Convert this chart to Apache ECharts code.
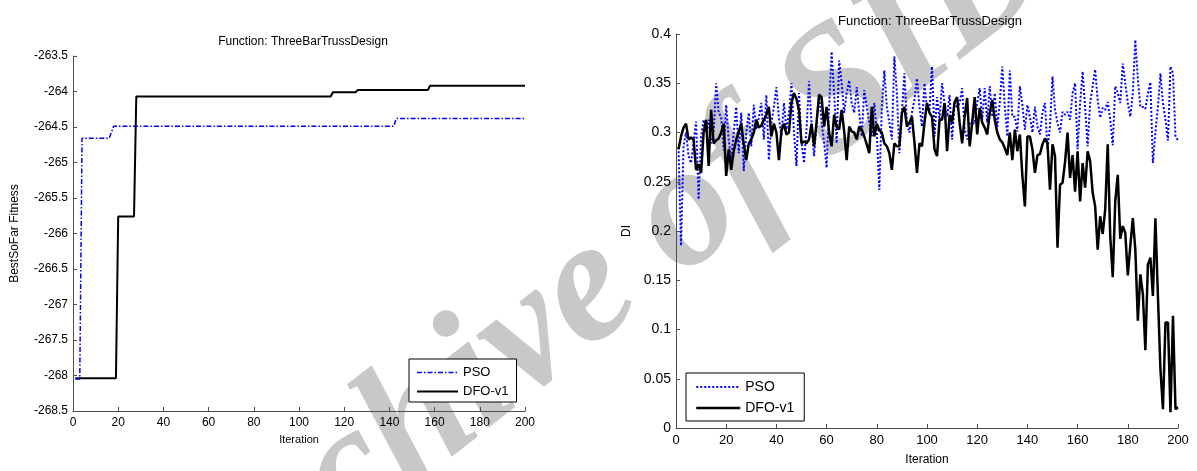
<!DOCTYPE html>
<html>
<head>
<meta charset="utf-8">
<script src="https://cdn.jsdelivr.net/npm/echarts@6/dist/echarts.min.js"></script>
<style>
  html, body { margin: 0; padding: 0; background: #fff; }
  #chart { width: 1197px; height: 471px; }
</style>
</head>
<body>
<div id="chart"></div>
<script>
// left panel: best-so-far fitness, step curves given as [iteration, value] breakpoints
const fitnessPSO = [
  [1, -268.05], [3, -268.05], [4, -264.66], [16, -264.66], [18, -264.49],
  [142, -264.49], [143, -264.38], [200, -264.38]
];
const fitnessDFO = [
  [1, -268.04], [19, -268.04], [20, -265.76], [27, -265.76], [28, -264.07],
  [114, -264.07], [115, -264.01], [125, -264.01], [126, -263.98], [157, -263.98],
  [158, -263.92], [200, -263.92]
];

// right panel: diversity index per iteration (1..200)
const diPSO = [
  0.285, 0.185, 0.286, 0.300, 0.276, 0.269, 0.290, 0.311, 0.232, 0.296,
  0.313, 0.300, 0.313, 0.289, 0.300, 0.350, 0.320, 0.316, 0.282, 0.328,
  0.293, 0.272, 0.300, 0.326, 0.279, 0.320, 0.261, 0.300, 0.320, 0.286,
  0.328, 0.303, 0.315, 0.330, 0.293, 0.338, 0.272, 0.310, 0.326, 0.346,
  0.315, 0.296, 0.330, 0.303, 0.320, 0.350, 0.300, 0.266, 0.340, 0.290,
  0.269, 0.303, 0.352, 0.310, 0.276, 0.309, 0.340, 0.310, 0.290, 0.264,
  0.326, 0.382, 0.340, 0.289, 0.373, 0.350, 0.320, 0.340, 0.353, 0.330,
  0.320, 0.346, 0.320, 0.296, 0.343, 0.326, 0.310, 0.296, 0.330, 0.300,
  0.242, 0.326, 0.363, 0.326, 0.310, 0.293, 0.377, 0.340, 0.279, 0.320,
  0.360, 0.309, 0.300, 0.320, 0.333, 0.355, 0.326, 0.306, 0.350, 0.323,
  0.323, 0.367, 0.296, 0.336, 0.313, 0.350, 0.330, 0.316, 0.338, 0.293,
  0.330, 0.326, 0.330, 0.345, 0.303, 0.293, 0.309, 0.310, 0.309, 0.330,
  0.345, 0.313, 0.345, 0.310, 0.347, 0.316, 0.340, 0.306, 0.330, 0.367,
  0.326, 0.296, 0.363, 0.316, 0.316, 0.301, 0.347, 0.328, 0.303, 0.328,
  0.316, 0.300, 0.326, 0.306, 0.298, 0.320, 0.330, 0.283, 0.306, 0.357,
  0.323, 0.310, 0.300, 0.321, 0.318, 0.321, 0.313, 0.340, 0.350, 0.283,
  0.330, 0.362, 0.325, 0.286, 0.330, 0.347, 0.364, 0.333, 0.315, 0.325,
  0.323, 0.331, 0.313, 0.287, 0.347, 0.340, 0.330, 0.370, 0.350, 0.330,
  0.316, 0.340, 0.394, 0.355, 0.326, 0.326, 0.324, 0.340, 0.351, 0.269,
  0.300, 0.326, 0.360, 0.330, 0.313, 0.292, 0.367, 0.360, 0.296, 0.292
];
const diDFO = [
  0.283, 0.296, 0.305, 0.309, 0.293, 0.295, 0.293, 0.262, 0.268, 0.259,
  0.300, 0.313, 0.266, 0.323, 0.289, 0.292, 0.294, 0.300, 0.309, 0.256,
  0.283, 0.262, 0.281, 0.293, 0.301, 0.309, 0.288, 0.272, 0.289, 0.293,
  0.300, 0.313, 0.305, 0.307, 0.313, 0.318, 0.326, 0.296, 0.309, 0.300,
  0.272, 0.302, 0.309, 0.298, 0.300, 0.330, 0.340, 0.334, 0.323, 0.289,
  0.291, 0.289, 0.293, 0.309, 0.286, 0.310, 0.338, 0.336, 0.306, 0.326,
  0.300, 0.286, 0.318, 0.306, 0.303, 0.323, 0.301, 0.272, 0.306, 0.301,
  0.300, 0.293, 0.306, 0.303, 0.296, 0.288, 0.279, 0.326, 0.296, 0.309,
  0.302, 0.300, 0.289, 0.286, 0.279, 0.262, 0.289, 0.286, 0.286, 0.320,
  0.326, 0.306, 0.310, 0.316, 0.290, 0.259, 0.289, 0.286, 0.310, 0.330,
  0.320, 0.316, 0.283, 0.276, 0.313, 0.313, 0.330, 0.281, 0.318, 0.310,
  0.331, 0.336, 0.310, 0.289, 0.316, 0.335, 0.286, 0.310, 0.336, 0.298,
  0.325, 0.310, 0.305, 0.298, 0.320, 0.333, 0.313, 0.300, 0.293, 0.290,
  0.284, 0.277, 0.300, 0.272, 0.303, 0.281, 0.298, 0.256, 0.225, 0.296,
  0.296, 0.283, 0.259, 0.277, 0.278, 0.288, 0.294, 0.289, 0.242, 0.288,
  0.276, 0.183, 0.247, 0.249, 0.270, 0.300, 0.254, 0.277, 0.240, 0.281,
  0.230, 0.269, 0.244, 0.281, 0.271, 0.239, 0.225, 0.181, 0.215, 0.197,
  0.222, 0.288, 0.195, 0.153, 0.230, 0.257, 0.192, 0.205, 0.198, 0.155,
  0.185, 0.213, 0.181, 0.109, 0.156, 0.136, 0.079, 0.166, 0.173, 0.134,
  0.213, 0.134, 0.060, 0.019, 0.107, 0.107, 0.016, 0.114, 0.019, 0.021
];

const xTicks = { min: 0, max: 200, interval: 20 };
const chartTitle = "Function: ThreeBarTrussDesign";

const font = "Liberation Sans";
const axisColor = "#4d4d4d";
const noMarker = { color: "rgba(0,0,0,0)", borderColor: "rgba(0,0,0,0)", borderWidth: 0 };

function toPairs(values) {
  return values.map((v, i) => [i + 1, v]);
}

function xAxisCfg(gridIndex, gap, fs) {
  return {
    type: "value", gridIndex, ...xTicks,
    name: "Iteration", nameLocation: "middle", nameGap: gap,
    nameTextStyle: { color: "#000", fontFamily: font, fontSize: fs - 1 },
    axisLine: { show: true, lineStyle: { color: axisColor, width: 1 } },
    axisTick: { show: true, inside: true, length: 4, lineStyle: { color: axisColor } },
    axisLabel: { color: "#000", fontFamily: font, fontSize: fs, margin: 6 },
    splitLine: { show: false }
  };
}

function yAxisCfg(gridIndex, min, max, interval, name, gap, fs) {
  return {
    type: "value", gridIndex, min, max, interval,
    name, nameLocation: "middle", nameGap: gap, nameRotate: 90,
    nameTextStyle: { color: "#000", fontFamily: font, fontSize: 12 },
    axisLine: { show: true, lineStyle: { color: axisColor, width: 1 } },
    axisTick: { show: true, inside: true, length: 4, lineStyle: { color: axisColor } },
    axisLabel: { color: "#000", fontFamily: font, fontSize: fs, margin: 5 },
    splitLine: { show: false }
  };
}

const chart = echarts.init(document.getElementById("chart"), null, { renderer: "canvas" });

const option = {
  animation: false,
  backgroundColor: "#fff",
  graphic: [{
    type: "text", silent: true, z: -10,
    x: 603, y: 281, rotation: 38 * Math.PI / 180,
    style: {
      text: "Archive of SID",
      font: "italic bold 175px 'Liberation Serif'",
      fill: "#c8c8c8", align: "center", verticalAlign: "middle"
    }
  }],
  title: [
    { text: chartTitle, left: 298, top: 31, textAlign: "center",
      textStyle: { fontFamily: font, fontSize: 12, fontWeight: "normal", color: "#000" } },
    { text: chartTitle, left: 925, top: 10, textAlign: "center",
      textStyle: { fontFamily: font, fontSize: 13, fontWeight: "normal", color: "#000" } }
  ],
  grid: [
    { left: 73, right: 672, top: 56, bottom: 60, containLabel: false },
    { left: 676, right: 19, top: 34, bottom: 42, containLabel: false }
  ],
  legend: [
    {
      orient: "vertical", left: 409, top: 359,
      backgroundColor: "#fff", borderColor: "#000", borderWidth: 1,
      padding: [7, 8, 4, 7], itemGap: 6, itemWidth: 41, itemHeight: 14,
      textStyle: { fontFamily: font, fontSize: 13, color: "#000" },
      itemStyle: noMarker,
      data: [
        { name: "PSO", lineStyle: { color: "#0000ff", width: 1.5, type: [5, 2, 1.5, 2] } },
        { name: "DFO-v1", lineStyle: { color: "#000", width: 2, type: "solid" } }
      ]
    },
    {
      orient: "vertical", left: 686, top: 373,
      backgroundColor: "#fff", borderColor: "#000", borderWidth: 1,
      padding: [7, 10, 6, 9], itemGap: 7, itemWidth: 44, itemHeight: 14,
      textStyle: { fontFamily: font, fontSize: 14, color: "#000" },
      itemStyle: noMarker,
      data: [
        { name: "PSO", lineStyle: { color: "#0000ff", width: 2, type: [2, 2] } },
        { name: "DFO-v1", lineStyle: { color: "#000", width: 2.5, type: "solid" } }
      ]
    }
  ],
  xAxis: [xAxisCfg(0, 23, 12), xAxisCfg(1, 26, 13)],
  yAxis: [
    yAxisCfg(0, -268.5, -263.5, 0.5, "BestSoFar Fitness", 52, 12),
    yAxisCfg(1, 0, 0.4, 0.05, "DI", 43, 14)
  ],
  series: [
    { name: "PSO", type: "line", xAxisIndex: 0, yAxisIndex: 0, data: fitnessPSO,
      symbol: "none", lineStyle: { color: "#0000ff", width: 1.5, type: [5, 2, 1.5, 2] },
      itemStyle: { color: "#0000ff" }, z: 3 },
    { name: "DFO-v1", type: "line", xAxisIndex: 0, yAxisIndex: 0, data: fitnessDFO,
      symbol: "none", lineStyle: { color: "#000", width: 2 },
      itemStyle: { color: "#000" }, z: 2 },
    { name: "PSO", type: "line", xAxisIndex: 1, yAxisIndex: 1, data: toPairs(diPSO),
      symbol: "none", lineStyle: { color: "#0000ff", width: 2, type: [2, 2] },
      itemStyle: { color: "#0000ff" }, z: 2 },
    { name: "DFO-v1", type: "line", xAxisIndex: 1, yAxisIndex: 1, data: toPairs(diDFO),
      symbol: "none", lineStyle: { color: "#000", width: 2.5 },
      itemStyle: { color: "#000" }, z: 3 }
  ]
};

chart.setOption(option);
window.addEventListener("resize", () => chart.resize());
</script>
</body>
</html>
